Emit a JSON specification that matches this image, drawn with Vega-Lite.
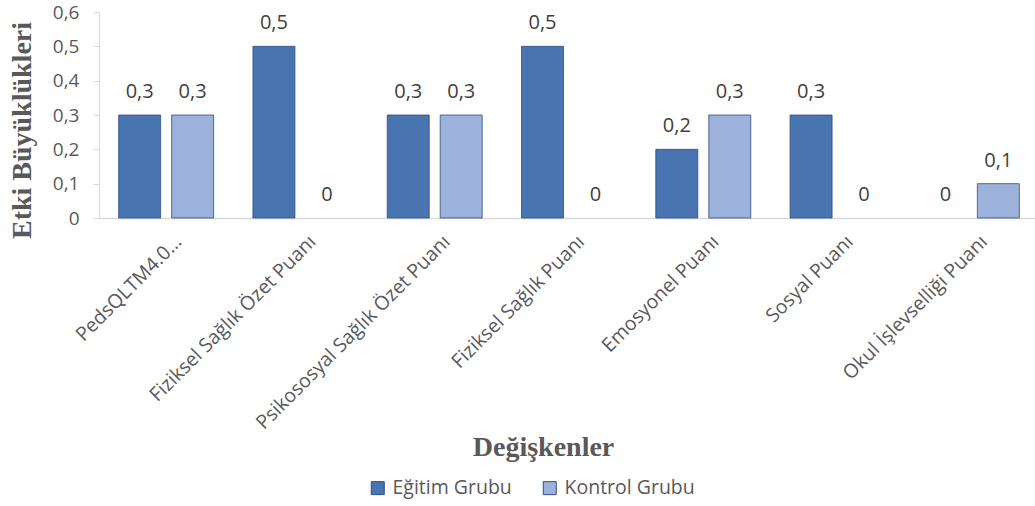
{
  "$schema": "https://vega.github.io/schema/vega-lite/v6.json",
  "autosize": "none",
  "width": 936,
  "height": 206,
  "padding": {"left": 99, "top": 12, "right": 0, "bottom": 288},
  "background": "white",
  "config": {
    "view": {"stroke": null},
    "locale": {"number": {"decimal": ",", "thousands": ".", "grouping": [3], "currency": ["", " ₺"]}},
    "font": "Open Sans"
  },
  "data": {
    "values": [
      {"Değişken": "PedsQLTM4.0…", "Grup": "Eğitim Grubu", "Değer": 0.3},
      {"Değişken": "PedsQLTM4.0…", "Grup": "Kontrol Grubu", "Değer": 0.3},
      {"Değişken": "Fiziksel Sağlık Özet Puanı", "Grup": "Eğitim Grubu", "Değer": 0.5},
      {"Değişken": "Fiziksel Sağlık Özet Puanı", "Grup": "Kontrol Grubu", "Değer": 0},
      {"Değişken": "Psikososyal Sağlık Özet Puanı", "Grup": "Eğitim Grubu", "Değer": 0.3},
      {"Değişken": "Psikososyal Sağlık Özet Puanı", "Grup": "Kontrol Grubu", "Değer": 0.3},
      {"Değişken": "Fiziksel Sağlık Puanı", "Grup": "Eğitim Grubu", "Değer": 0.5},
      {"Değişken": "Fiziksel Sağlık Puanı", "Grup": "Kontrol Grubu", "Değer": 0},
      {"Değişken": "Emosyonel Puanı", "Grup": "Eğitim Grubu", "Değer": 0.2},
      {"Değişken": "Emosyonel Puanı", "Grup": "Kontrol Grubu", "Değer": 0.3},
      {"Değişken": "Sosyal Puanı", "Grup": "Eğitim Grubu", "Değer": 0.3},
      {"Değişken": "Sosyal Puanı", "Grup": "Kontrol Grubu", "Değer": 0},
      {"Değişken": "Okul İşlevselliği Puanı", "Grup": "Eğitim Grubu", "Değer": 0},
      {"Değişken": "Okul İşlevselliği Puanı", "Grup": "Kontrol Grubu", "Değer": 0.1}
    ]
  },
  "encoding": {
    "x": {
      "field": "Değişken",
      "type": "nominal",
      "sort": null,
      "scale": {"paddingInner": 0, "paddingOuter": 0, "range": [0, 940]},
      "axis": {
        "title": "Değişkenler",
        "titleFont": "Liberation Serif",
        "titleFontWeight": "bold",
        "titleFontSize": 28,
        "titleColor": "#595959",
        "titleX": 444,
        "titleY": 229,
        "titleAlign": "center",
        "titleBaseline": "middle",
        "labelAngle": -45,
        "labelFontSize": 19.5,
        "labelColor": "#595959",
        "labelFont": "Open Sans",
        "labelOffset": 6,
        "labelPadding": 14,
        "labelLimit": 400,
        "ticks": false,
        "domainColor": "#d9d9d9",
        "domainWidth": 1.5,
        "grid": false
      }
    },
    "xOffset": {
      "field": "Grup",
      "type": "nominal",
      "sort": ["Eğitim Grubu", "Kontrol Grubu"],
      "scale": {"paddingInner": 0.2075, "paddingOuter": 0.371}
    },
    "y": {
      "field": "Değer",
      "type": "quantitative",
      "scale": {"domain": [0, 0.6]},
      "axis": {
        "title": "Etki Büyüklükleri",
        "titleFont": "Liberation Serif",
        "titleFontWeight": "bold",
        "titleFontSize": 28,
        "titleColor": "#595959",
        "titleX": -77,
        "titleY": 118,
        "titleAngle": -90,
        "titleAlign": "center",
        "titleBaseline": "middle",
        "values": [0, 0.1, 0.2, 0.3, 0.4, 0.5, 0.6],
        "format": ".1~f",
        "labelFontSize": 19,
        "labelColor": "#595959",
        "labelFont": "Open Sans",
        "labelPadding": 14,
        "tickSize": 6,
        "tickColor": "#d9d9d9",
        "domainColor": "#d9d9d9",
        "grid": false
      }
    }
  },
  "layer": [
    {
      "transform": [{"filter": "datum['Değer'] > 0"}],
      "mark": {"type": "bar", "stroke": "#2f4f7f", "strokeWidth": 1, "strokeOpacity": 0.8},
      "encoding": {
        "color": {
          "field": "Grup",
          "type": "nominal",
          "sort": ["Eğitim Grubu", "Kontrol Grubu"],
          "scale": {"domain": ["Eğitim Grubu", "Kontrol Grubu"], "range": ["#4874b0", "#9cb2da"]},
          "legend": {
            "title": null,
            "orient": "none",
            "direction": "horizontal",
            "legendX": 269,
            "legendY": 466,
            "symbolType": "square",
            "symbolSize": 169,
            "symbolStrokeColor": "#2f4f7f",
            "symbolStrokeWidth": 1,
            "symbolOpacity": 1,
            "labelFontSize": 19.5,
            "labelColor": "#595959",
            "labelFont": "Open Sans",
            "labelOffset": 5,
            "columnPadding": 28
          }
        }
      }
    },
    {
      "mark": {"type": "text", "dy": -17, "baseline": "alphabetic", "fontSize": 20, "color": "#404040", "font": "Open Sans"},
      "encoding": {
        "text": {"field": "Değer", "type": "quantitative", "format": ".1~f"}
      }
    }
  ]
}
